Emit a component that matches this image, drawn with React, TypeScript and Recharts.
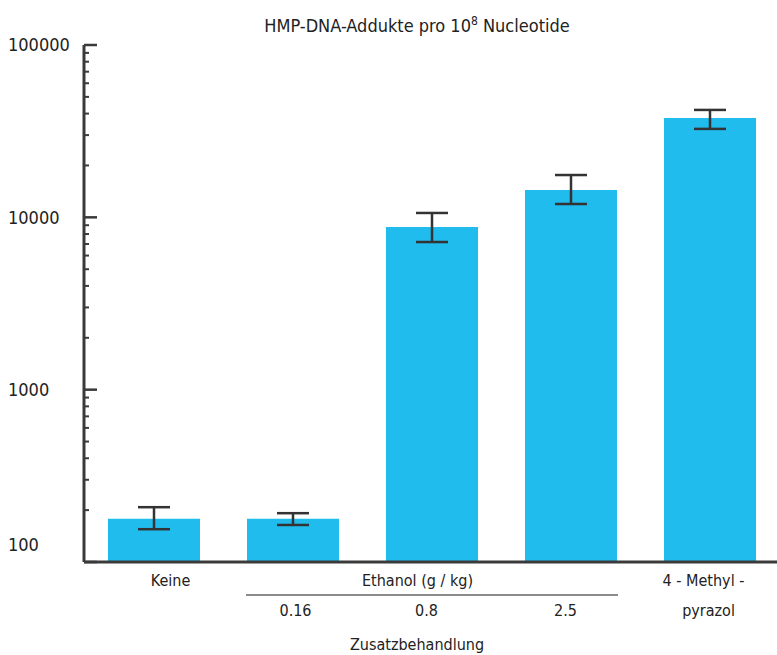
import { BarChart, Bar, XAxis, YAxis, ErrorBar } from 'recharts';

// Mittelwerte und Fehlergrenzen (HMP-DNA-Addukte pro 10^8 Nucleotide)
const categories = ['Keine', '0.16', '0.8', '2.5', '4-Methylpyrazol'];
const means = [178, 178, 8790, 14400, 37700];
const lower = [155, 164, 7190, 11950, 32600];
const upper = [208, 192, 10600, 17600, 42000];

const topLabels = ['Keine', '', 'Ethanol (g / kg)', '', '4 - Methyl -'];
const bottomLabels = ['', '0.16', '0.8', '2.5', 'pyrazol'];

const yTicks = [
  100, 200, 300, 400, 500, 600, 700, 800, 900,
  1000, 2000, 3000, 4000, 5000, 6000, 7000, 8000, 9000,
  10000, 20000, 30000, 40000, 50000, 60000, 70000, 80000, 90000,
  100000,
];
const majorTicks = [100, 1000, 10000, 100000];

const data = categories.map((c, i) => ({
  name: c,
  value: means[i],
  err: [means[i] - lower[i], upper[i] - means[i]],
}));

const FONT = "'Liberation Sans Narrow', 'DejaVu Sans Condensed', 'Roboto Condensed', sans-serif";
const AXIS_X = 84;
const INK = '#3a3a3a';

const YTick = (props: any) => {
  const { y, payload } = props;
  const v = payload.value;
  const major = majorTicks.includes(v);
  return (
    <g>
      <line x1={AXIS_X} x2={AXIS_X + (major ? 13 : 5)} y1={y} y2={y} stroke={INK} strokeWidth={major ? 2.5 : 2} />
      {major && (
        <text x={8} y={v === 100 ? y - 17 : y} dy="0.35em" textAnchor="start" fontSize={18} fill="#222" fontFamily={FONT}>
          {v}
        </text>
      )}
    </g>
  );
};

const topDx = [17, 0, -14, 0, -6];
const bottomDx = [0, 3, -5, -5, -1];

const XTick = (props: any) => {
  const { x, index } = props;
  const base = 562;
  return (
    <g fontFamily={FONT} fontSize={16} fill="#222">
      {topLabels[index] && (
        <text x={x + topDx[index]} y={base + 18} dy="0.35em" textAnchor="middle">
          {topLabels[index]}
        </text>
      )}
      {bottomLabels[index] && (
        <text x={x + bottomDx[index]} y={base + 48} dy="0.35em" textAnchor="middle">
          {bottomLabels[index]}
        </text>
      )}
      {index === 2 && <line x1={246} x2={618} y1={base + 33} y2={base + 33} stroke="#666" strokeWidth={1.5} />}
    </g>
  );
};

export default function App() {
  return (
    <div style={{ position: 'absolute', left: 0, top: 0, width: 777, height: 655, overflow: 'hidden', background: '#fff' }}>
      <div
        style={{
          position: 'absolute',
          left: 0,
          width: 834,
          top: 14,
          textAlign: 'center',
          fontFamily: FONT,
          fontSize: 18,
          color: '#222',
        }}
      >
        HMP-DNA-Addukte pro 10<sup style={{ fontSize: 12 }}>8</sup> Nucleotide
      </div>
      <div
        style={{
          position: 'absolute',
          left: 0,
          width: 834,
          top: 635,
          textAlign: 'center',
          fontFamily: FONT,
          fontSize: 16,
          color: '#222',
        }}
      >
        Zusatzbehandlung
      </div>
      <BarChart width={779} height={655} data={data} margin={{ top: 45, right: 0, bottom: 0, left: 0 }}>
        <XAxis
          dataKey="name"
          height={93}
          interval={0}
          tickLine={false}
          axisLine={{ stroke: INK, strokeWidth: 3 }}
          tick={<XTick />}
        />
        <YAxis
          width={84}
          scale="log"
          domain={[100, 100000]}
          allowDataOverflow
          ticks={yTicks}
          interval={0}
          tickLine={false}
          axisLine={{ stroke: INK, strokeWidth: 3 }}
          tick={<YTick />}
        />
        <Bar dataKey="value" fill="#20bced" barSize={92} isAnimationActive={false}>
          <ErrorBar dataKey="err" width={16} stroke="#333" strokeWidth={2.5} />
        </Bar>
      </BarChart>
    </div>
  );
}
